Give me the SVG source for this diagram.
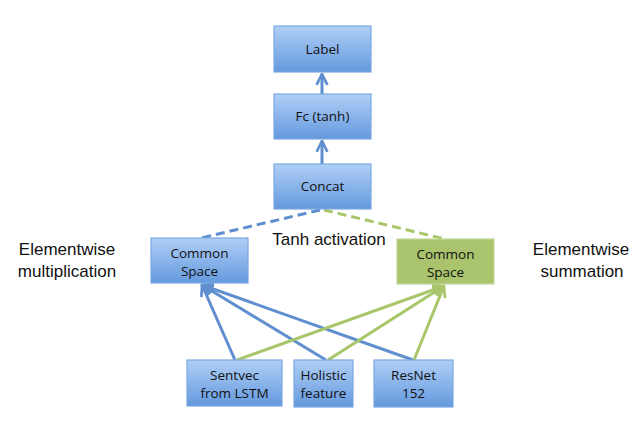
<svg xmlns="http://www.w3.org/2000/svg" width="644" height="431" viewBox="0 0 644 431">
<defs>
<linearGradient id="gb" x1="0" y1="0" x2="0" y2="1">
<stop offset="0" stop-color="#b0cff6"/>
<stop offset="1" stop-color="#6499de"/>
</linearGradient>
<marker id="ab" viewBox="0 0 10 10" refX="9" refY="5" markerWidth="4.5" markerHeight="4.5" orient="auto" markerUnits="strokeWidth">
<path d="M1,1 L9,5 L1,9" fill="none" stroke="#5f8fcf" stroke-width="2"/>
</marker>
<marker id="ag" viewBox="0 0 10 10" refX="9" refY="5" markerWidth="4.5" markerHeight="4.5" orient="auto" markerUnits="strokeWidth">
<path d="M1,1 L9,5 L1,9" fill="none" stroke="#a8c66a" stroke-width="2"/>
</marker>
<style>
.b{fill:url(#gb);stroke:#7aa7e0;stroke-width:1.2}
.g{fill:#a9c46c;stroke:#c3d79a;stroke-width:1.2}
.t{font-family:"Open Sans","Liberation Sans",sans-serif;font-size:13.5px;fill:#111;text-anchor:middle}
.s{font-family:"Liberation Sans",sans-serif;font-size:17px;fill:#111;text-anchor:middle}
.lb{stroke:#5f8fcf;stroke-width:3;fill:none}
.lg{stroke:#a8c66a;stroke-width:3;fill:none}
</style>
</defs>
<rect width="644" height="431" fill="#fff"/>
<g id="connectors">
<line class="lb" x1="322" y1="94" x2="322" y2="74" marker-end="url(#ab)"/>
<line class="lb" x1="322" y1="164" x2="322" y2="141" marker-end="url(#ab)"/>
<line class="lb" x1="320" y1="210" x2="201" y2="238" stroke-dasharray="9,5"/>
<line class="lg" x1="324" y1="210" x2="445" y2="239" stroke-dasharray="9,5"/>
<line class="lb" x1="235" y1="360" x2="202" y2="285" marker-end="url(#ab)"/>
<line class="lb" x1="326" y1="360" x2="202" y2="285" marker-end="url(#ab)"/>
<line class="lb" x1="413" y1="360" x2="202" y2="285" marker-end="url(#ab)"/>
<line class="lg" x1="237" y1="360" x2="444" y2="286" marker-end="url(#ag)"/>
<line class="lg" x1="328" y1="360" x2="444" y2="286" marker-end="url(#ag)"/>
<line class="lg" x1="414" y1="360" x2="444" y2="286" marker-end="url(#ag)"/>
</g>
<g id="label"><rect class="b" x="274" y="26" width="97" height="46"/><text class="t" x="322.5" y="54">Label</text></g>
<g id="fc"><rect class="b" x="274" y="94" width="97" height="45"/><text class="t" x="322.5" y="121">Fc (tanh)</text></g>
<g id="concat"><rect class="b" x="274" y="164" width="97" height="45"/><text class="t" x="322.5" y="191">Concat</text></g>
<g id="cs-left"><rect class="b" x="151" y="238" width="97" height="45"/><text class="t" x="199.5" y="258">Common</text><text class="t" x="199.5" y="276">Space</text></g>
<g id="cs-right"><rect class="g" x="397" y="239" width="97" height="45"/><text class="t" x="445.5" y="259">Common</text><text class="t" x="445.5" y="277">Space</text></g>
<g id="sentvec"><rect class="b" x="187" y="360" width="95" height="46"/><text class="t" x="234.5" y="380">Sentvec</text><text class="t" x="234.5" y="398">from LSTM</text></g>
<g id="holistic"><rect class="b" x="294" y="360" width="59" height="47"/><text class="t" x="323.5" y="380">Holistic</text><text class="t" x="323.5" y="398">feature</text></g>
<g id="resnet"><rect class="b" x="374" y="360" width="79" height="47"/><text class="t" x="413.5" y="380">ResNet</text><text class="t" x="413.5" y="398">152</text></g>
<g id="annotations">
<text class="s" x="329" y="245">Tanh activation</text>
<text class="s" x="67" y="255">Elementwise</text>
<text class="s" x="67" y="277">multiplication</text>
<text class="s" x="581" y="255">Elementwise</text>
<text class="s" x="582" y="277">summation</text>
</g>
</svg>
